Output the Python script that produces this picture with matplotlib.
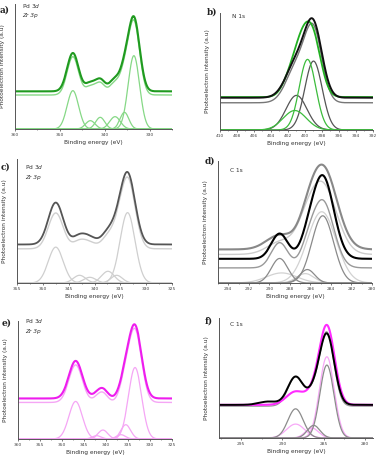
import numpy as np
import matplotlib.pyplot as plt
from matplotlib.ticker import MultipleLocator

# peak parameters: centre (eV), height (a.u.), FWHM (eV)

# a) Pd 3d / Zr 3p, green sample
A_CENTER = [347.1, 343.2, 341.0, 337.7, 335.6, 333.5]
A_HEIGHT = [115, 25, 35, 37, 50, 220]
A_FWHM = [3.0, 2.5, 2.4, 2.8, 2.3, 3.0]
A_FIT_BASE = 102
A_EXP_BASE = 113

# b) N 1s
B_GREY_CENTER = [401.0, 399.0]
B_GREY_HEIGHT = [103, 205]
B_GREY_FWHM = [2.9, 2.4]
B_GREEN_CENTER = [401.2, 399.7]
B_GREEN_HEIGHT = [58, 210]
B_GREEN_FWHM = [3.2, 2.3]
B_GREEN_EXP_CENTER = [401.8, 400.5, 399.1]
B_GREEN_EXP_HEIGHT = [50, 115, 175]
B_GREEN_EXP_FWHM = [2.1, 2.1, 2.3]
B_FIT_BASE = 81
B_BLACK_BASE = 96
B_GREEN_BASE = 98

# c) Pd 3d / Zr 3p, grey sample
C_CENTER = [347.5, 342.9, 340.9, 337.4, 335.7, 333.6]
C_HEIGHT = [107, 23, 17, 35, 23, 210]
C_EXP_HEIGHT = [125, 26, 20, 36, 24, 212]
C_FWHM = [3.4, 2.8, 2.8, 2.9, 2.6, 3.4]
C_FIT_BASE = 102
C_EXP_BASE = 115

# d) C 1s, grey / black
D_CENTER = [289.0, 286.3, 284.8]
D_DARK_HEIGHT = [42, 30, 245]
D_DARK_FWHM = [3.0, 2.0, 3.2]
D_LIGHT_HEIGHT = [38, 28, 212]
D_LIGHT_FWHM = [3.2, 2.0, 3.3]
D_BLACK_HEIGHT = [75, 32, 245]
D_BLACK_FWHM = [1.9, 1.7, 2.5]
D_GREY_HEIGHT = [75, 38, 198]
D_GREY_FWHM = [1.9, 1.7, 2.5]
D_COMP_GREY_HEIGHT = [73, 40, 200]
D_COMP_LIGHT_CENTER = [288.8, 286.5, 284.9]
D_COMP_LIGHT_HEIGHT = [30, 28, 212]
D_COMP_LIGHT_FWHM = [3.5, 2.0, 3.3]
D_DARK_BASE = 100
D_LIGHT_BASE = 85
D_BLACK_BASE = 72
D_GREY_BASE = 45

# e) Pd 3d / Zr 3p, magenta sample
E_CENTER = [346.9, 342.1, 340.7, 336.6, 335.5, 333.4]
E_HEIGHT = [113, 10, 27, 13, 43, 215]
E_FWHM = [3.6, 2.4, 2.6, 2.4, 2.6, 3.5]
E_FIT_BASE = 110
E_EXP_BASE = 122

# f) C 1s, magenta / black
F_BLACK_CENTER = [291.7, 288.4, 286.2, 284.6]
F_BLACK_HEIGHT = [10, 85, 33, 212]
F_BLACK_FWHM = [2.6, 2.2, 1.8, 2.1]
F_MAG_CENTER = [288.4, 286.3, 284.6]
F_MAG_HEIGHT = [40, 28, 238]
F_MAG_FWHM = [2.6, 1.9, 2.2]
F_COMP_GREY_CENTER = [288.4, 286.2, 284.6]
F_COMP_GREY_HEIGHT = [88, 38, 220]
F_COMP_GREY_FWHM = [2.2, 1.8, 2.0]
F_COMP_MAG_CENTER = [288.4, 286.4, 284.6]
F_COMP_MAG_HEIGHT = [42, 30, 245]
F_COMP_MAG_FWHM = [2.6, 1.9, 2.1]
F_EXP_BASE = 100
F_FIT_BASE = 96


def gauss(e, c, h, w):
    s = w / 2.3548
    return h * np.exp(-0.5 * ((e - c) / s) ** 2)


def curve(e, centers, heights, fwhms, base=0):
    y = np.full_like(e, float(base))
    for c, h, w in zip(centers, heights, fwhms):
        y += gauss(e, c, h, w)
    return y


def comps(ax, e, centers, heights, fwhms, color, lw=0.9):
    for c, h, w in zip(centers, heights, fwhms):
        ax.plot(e, gauss(e, c, h, w), color=color, lw=lw)


W, H = 380, 462
fig = plt.figure(figsize=(W / 100, H / 100), dpi=100)
plt.rcParams['font.family'] = 'DejaVu Sans'


def make_ax(left, top, right, bottom, xlim, ylim, major, minor):
    ax = fig.add_axes([left / W, 1 - bottom / H, (right - left) / W, (bottom - top) / H])
    ax.set_xlim(*xlim)
    ax.set_ylim(*ylim)
    for s in ['top', 'right']:
        ax.spines[s].set_visible(False)
    for s in ['left', 'bottom']:
        ax.spines[s].set_color('#555555')
        ax.spines[s].set_linewidth(0.7)
    ax.set_yticks([])
    ax.xaxis.set_major_locator(MultipleLocator(major))
    ax.xaxis.set_minor_locator(MultipleLocator(minor))
    ax.tick_params(axis='x', which='major', labelsize=3.2, length=1.6, width=0.5,
                   pad=1.2, colors='#444444')
    ax.tick_params(axis='x', which='minor', length=1.0, width=0.4, colors='#444444')
    ax.set_xlabel('Binding energy (eV)', fontsize=4.2, labelpad=2.2, color='#333333')
    ax.set_ylabel('Photoelectron intensity (a.u)', fontsize=4.2, color='#333333')
    ax.yaxis.set_label_coords(-10 / (right - left), 0.5)
    return ax


def panel_text(x, y, s, **kw):
    fig.text(x / W, 1 - y / H, s, fontsize=4.2, color='#333333', va='center', **kw)


def letter(x, y, s):
    fig.text(x / W, 1 - y / H, s, fontsize=6.5, fontweight='bold', family='DejaVu Serif',
             va='center', color='#222222')


# ---- a) ----
ax = make_ax(15, 4, 172, 129, (360, 325), (0, 375), 10, 5)
e = np.linspace(325, 360, 800)
comps(ax, e, A_CENTER, A_HEIGHT, A_FWHM, '#86d886')
ax.plot(e, curve(e, A_CENTER, A_HEIGHT, A_FWHM, A_FIT_BASE), color='#86d886', lw=1.0)
ax.plot(e, curve(e, A_CENTER, A_HEIGHT, A_FWHM, A_EXP_BASE), color='#1f9a1f', lw=1.5)
letter(0, 10, 'a)')
panel_text(22, 6, r'Pd 3$\it{d}$')
panel_text(22, 16, 'Zr 3p', style='italic')

# ---- b) ----
ax = make_ax(220, 13, 373, 130, (410, 392), (0, 348), 2, 1)
e = np.linspace(392, 410, 800)
comps(ax, e, B_GREY_CENTER, B_GREY_HEIGHT, B_GREY_FWHM, '#555555')
comps(ax, e, B_GREEN_CENTER, B_GREEN_HEIGHT, B_GREEN_FWHM, '#3cbc3c')
ax.plot(e, curve(e, B_GREY_CENTER, B_GREY_HEIGHT, B_GREY_FWHM, B_FIT_BASE), color='#777777', lw=1.0)
ax.plot(e, curve(e, B_GREEN_EXP_CENTER, B_GREEN_EXP_HEIGHT, B_GREEN_EXP_FWHM, B_GREEN_BASE),
        color='#22b022', lw=1.3)
ax.plot(e, curve(e, B_GREY_CENTER, B_GREY_HEIGHT, B_GREY_FWHM, B_BLACK_BASE), color='#111111', lw=1.4)
letter(207, 12, 'b)')
panel_text(232, 17, 'N 1s')

# ---- c) ----
ax = make_ax(17, 159, 172, 283, (355, 325), (0, 370), 5, 2.5)
e = np.linspace(325, 355, 800)
comps(ax, e, C_CENTER, C_HEIGHT, C_FWHM, '#cfcfcf')
ax.plot(e, curve(e, C_CENTER, C_HEIGHT, C_FWHM, C_FIT_BASE), color='#cfcfcf', lw=1.0)
ax.plot(e, curve(e, C_CENTER, C_EXP_HEIGHT, C_FWHM, C_EXP_BASE), color='#555555', lw=1.3)
letter(1, 167, 'c)')
panel_text(25, 167, r'Pd 3$\it{d}$')
panel_text(25, 178, 'Zr 3p', style='italic')

# ---- d) ----
ax = make_ax(218, 161, 372, 283, (295, 280), (0, 363), 2, 1)
e = np.linspace(280, 295, 800)
comps(ax, e, D_COMP_LIGHT_CENTER, D_COMP_LIGHT_HEIGHT, D_COMP_LIGHT_FWHM, '#d2d2d2')
comps(ax, e, D_CENTER, D_COMP_GREY_HEIGHT, D_GREY_FWHM, '#8a8a8a')
ax.plot(e, curve(e, D_CENTER, D_GREY_HEIGHT, D_GREY_FWHM, D_GREY_BASE), color='#999999', lw=1.0)
ax.plot(e, curve(e, D_COMP_LIGHT_CENTER, D_LIGHT_HEIGHT, D_LIGHT_FWHM, D_LIGHT_BASE),
        color='#cccccc', lw=1.0)
ax.plot(e, curve(e, D_CENTER, D_DARK_HEIGHT, D_DARK_FWHM, D_DARK_BASE), color='#888888', lw=1.5)
ax.plot(e, curve(e, D_CENTER, D_BLACK_HEIGHT, D_BLACK_FWHM, D_BLACK_BASE), color='#000000', lw=1.5)
letter(205, 161, 'd)')
panel_text(230, 170, 'C 1s')

# ---- e) ----
ax = make_ax(18, 321, 172, 439, (360, 325), (0, 355), 5, 2.5)
e = np.linspace(325, 360, 800)
comps(ax, e, E_CENTER, E_HEIGHT, E_FWHM, '#f5a6f5')
ax.plot(e, curve(e, E_CENTER, E_HEIGHT, E_FWHM, E_FIT_BASE), color='#f5a6f5', lw=1.0)
ax.plot(e, curve(e, E_CENTER, E_HEIGHT, E_FWHM, E_EXP_BASE), color='#ee1cee', lw=1.5)
letter(2, 323, 'e)')
panel_text(25, 321, r'Pd 3$\it{d}$')
panel_text(25, 332, 'Zr 3p', style='italic')

# ---- f) ----
ax = make_ax(219, 318, 373, 438, (297.7, 279), (0, 362), 5, 2.5)
e = np.linspace(279, 297.7, 800)
comps(ax, e, F_COMP_MAG_CENTER, F_COMP_MAG_HEIGHT, F_COMP_MAG_FWHM, '#f7a8f7')
comps(ax, e, F_COMP_GREY_CENTER, F_COMP_GREY_HEIGHT, F_COMP_GREY_FWHM, '#8c8c8c')
ax.plot(e, curve(e, F_COMP_GREY_CENTER, F_COMP_GREY_HEIGHT, F_COMP_GREY_FWHM, F_FIT_BASE),
        color='#999999', lw=0.9)
ax.plot(e, curve(e, F_MAG_CENTER, F_MAG_HEIGHT, F_MAG_FWHM, F_EXP_BASE), color='#ff2bff', lw=1.5)
ax.plot(e, curve(e, F_BLACK_CENTER, F_BLACK_HEIGHT, F_BLACK_FWHM, F_EXP_BASE), color='#000000', lw=1.4)
letter(205, 321, 'f)')
panel_text(230, 324, 'C 1s')

fig.savefig('out.png', dpi=100)
